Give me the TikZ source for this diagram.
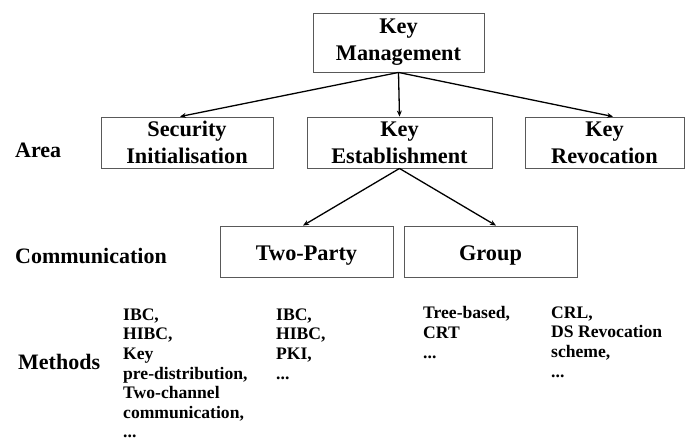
\documentclass[tikz,border=0pt]{standalone}
\usepackage{fontspec}
\setmainfont{Liberation Serif}
\usetikzlibrary{arrows.meta,calc}
\begin{document}
\begin{tikzpicture}[x=1pt,y=-1pt,
  box/.style={draw=black!65,line width=0.9pt,rectangle,inner sep=0pt,align=center,
    font=\fontsize{22.3}{27}\selectfont\bfseries},
  onebox/.style={box,text height=17pt,text depth=0pt},
  lbl/.style={anchor=west,inner sep=0pt,font=\fontsize{22}{26}\selectfont\bfseries},
  items/.style={anchor=north west,inner sep=0pt,align=left,
    font=\fontsize{17.6}{19.6}\selectfont\bfseries},
  conn/.style={line width=1.3pt,-{Stealth[length=6pt,width=5pt]}}]
\useasboundingbox (0,0) rectangle (686,447);
\fill[white] (0,0) rectangle (686,447);
% boxes
\node[box,minimum width=171pt,minimum height=59pt] (km) at (398.5,42.5) {Key\\Management};
\node[box,minimum width=172pt,minimum height=51pt] (si) at (187,142.5) {Security\\Initialisation};
\node[box,minimum width=185pt,minimum height=51pt] (ke) at (399.5,142.5) {Key\\Establishment};
\node[box,minimum width=159pt,minimum height=51pt] (kr) at (604.5,142.5) {Key\\Revocation};
\node[onebox,minimum width=173pt,minimum height=51pt] (tp) at (306.5,251.5) {Two-Party};
\node[onebox,minimum width=173pt,minimum height=51pt] (gr) at (490.5,251.5) {Group};
% row labels
\node[lbl] (area) at (15,150) {Area};
\node[lbl] (comm) at (15,256) {Communication};
\node[lbl] (meth) at (18,362) {Methods};
% method lists
\node[items] (m1) at (123,308.5) {IBC,\\HIBC,\\Key\\pre-distribution,\\Two-channel\\communication,\\...};
\node[items] (m2) at (276,308.5) {IBC,\\HIBC,\\PKI,\\...};
\node[items] (m3) at (423,306.5) {Tree-based,\\CRT\\...};
\node[items] (m4) at (551,306.5) {CRL,\\DS Revocation\\scheme,\\...};
% connectors
\coordinate (siin) at ($(si.north)+(-7,0)$);
\coordinate (krin) at ($(kr.north)+(8.5,0)$);
\coordinate (tpin) at ($(tp.north)+(-3.5,0)$);
\coordinate (grin) at ($(gr.north)+(5.5,0)$);
\draw[conn] (km.south) -- (siin);
\draw[conn] (km.south) -- (ke.north);
\draw[conn] (km.south) -- (krin);
\draw[conn] (ke.south) -- (tpin);
\draw[conn] (ke.south) -- (grin);
\end{tikzpicture}
\end{document}
